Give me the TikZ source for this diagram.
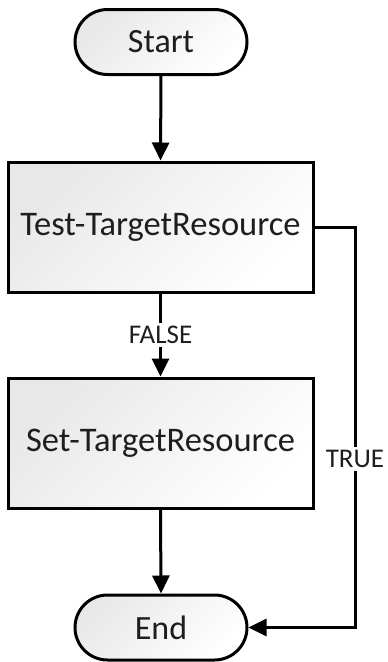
\documentclass[tikz,border=0pt]{standalone}
\usepackage{fontspec}
\setmainfont{Carlito}
\usetikzlibrary{shapes.misc,arrows.meta}
\definecolor{txt}{HTML}{1E1E1E}
\tikzset{
  flowline/.style={line width=3pt, draw=black},
  arr/.style={flowline, -{Triangle[width=17pt,length=18pt]}},
  shadefill/.style={left color=black!9, right color=white, shading angle=45},
  pill/.style={rounded rectangle, draw=black, line width=3pt, shadefill,
    minimum width=172pt, minimum height=65pt, inner sep=0pt,
    font=\fontsize{34}{40}\selectfont, text=txt},
  procbox/.style={rectangle, draw=black, line width=3pt, shadefill,
    minimum width=305pt, minimum height=130pt, inner sep=0pt,
    font=\fontsize{34.5}{40}\selectfont, text=txt},
  lbl/.style={fill=white, inner sep=3pt, font=\fontsize{27}{32}\selectfont, text=txt}
}
\begin{document}
\begin{tikzpicture}[x=1pt,y=-1pt]
\useasboundingbox (0,0) rectangle (388,662);
\node[pill] (start) at (161,42) {Start};
\node[procbox] (test) at (160.5,227) {Test-TargetResource};
\node[procbox] (set) at (160.5,443) {Set-TargetResource};
\node[pill] (end) at (161,627.5) {End};
\coordinate (tr) at (355,227);
\draw[arr] (start.south) -- (test.north);
\draw[arr] (test.south) -- (set.north);
\draw[arr] (set.south) -- (end.north);
\draw[arr] (test.east) -- (tr) |- (end.east);
\node[lbl] (falselbl) at (160.5,335) {FALSE};
\node[lbl] (truelbl) at (355,459) {TRUE};
\end{tikzpicture}
\end{document}
